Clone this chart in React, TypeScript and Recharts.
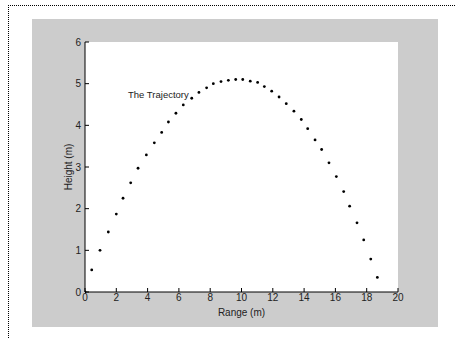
import React from 'react';
import { ScatterChart, Scatter, XAxis, YAxis, CartesianGrid, ReferenceDot } from 'recharts';

const rangeX = [0, 0.43, 0.96, 1.49, 2.0, 2.43, 2.92, 3.39, 3.92, 4.43, 4.9, 5.33, 5.81, 6.28, 6.82, 7.28, 7.77, 8.2, 8.69, 9.16, 9.63, 10.08, 10.56, 11.03, 11.46, 11.93, 12.4, 12.86, 13.35, 13.82, 14.23, 14.7, 15.12, 15.59, 16.06, 16.53, 16.91, 17.38, 17.81, 18.26, 18.68];
const heightY = [0, 0.53, 1.0, 1.44, 1.87, 2.25, 2.62, 2.97, 3.29, 3.58, 3.83, 4.08, 4.29, 4.49, 4.65, 4.79, 4.9, 5.0, 5.05, 5.08, 5.1, 5.1, 5.06, 5.03, 4.93, 4.82, 4.68, 4.52, 4.34, 4.14, 3.92, 3.65, 3.42, 3.1, 2.77, 2.41, 2.06, 1.66, 1.25, 0.79, 0.35];
const xTicks = [0, 2, 4, 6, 8, 10, 12, 14, 16, 18, 20];
const yTicks = [0, 1, 2, 3, 4, 5, 6];
const annotationText = 'The Trajectory';
const annotationAt = { x: 2.75, y: 4.72 };

const data = rangeX.map((x, i) => ({ x, y: heightY[i] }));

const FONT = '"Liberation Sans", Arial, sans-serif';
const TXT = '#222';

const Dot = (props: any) => <circle cx={props.cx} cy={props.cy} r={1.4} fill="#000" />;

const XLabel = (props: any) => {
  const vb = props.viewBox;
  return (
    <text x={vb.x + vb.width / 2} y={vb.y + 24} textAnchor="middle" fontSize={10} fontFamily={FONT} fill={TXT}>
      Range (m)
    </text>
  );
};

const YLabel = (props: any) => {
  const vb = props.viewBox;
  const cx = vb.x + 40;
  const cy = vb.y + vb.height / 2;
  return (
    <text x={cx} y={cy} transform={`rotate(-90 ${cx} ${cy})`} textAnchor="middle" fontSize={10} fontFamily={FONT} fill={TXT}>
      Height (m)
    </text>
  );
};

const AnnLabel = (props: any) => {
  const vb = props.viewBox;
  return (
    <text x={vb.x} y={vb.y + 3} textAnchor="start" fontSize={9.5} fontFamily={FONT} fill={TXT}>
      {annotationText}
    </text>
  );
};

const tickStyle = { fontSize: 10, fontFamily: FONT, fill: TXT };

export default function App() {
  return (
    <div style={{ position: 'fixed', left: 0, top: 0, width: 455, height: 338, background: '#fff', overflow: 'hidden' }}>
      <div style={{ position: 'absolute', left: 8, top: 5, width: 470, height: 360, borderTop: '1px dotted #000', borderLeft: '1px dotted #000' }} />
      <div style={{ position: 'absolute', left: 32, top: 19, width: 406, height: 308, background: '#cccccc' }}>
        <ScatterChart width={406} height={308} margin={{ top: 23, right: 40, bottom: 0, left: 0 }}>
          <CartesianGrid fill="#ffffff" stroke="none" horizontal={false} vertical={false} />
          <XAxis xAxisId="b" type="number" dataKey="x" domain={[0, 20]} ticks={xTicks} height={35}
            tick={tickStyle} tickSize={-4} tickMargin={6} stroke="#000" tickLine={{ stroke: '#000' }}
            axisLine={{ stroke: '#000' }} allowDataOverflow label={<XLabel />} />
          <XAxis xAxisId="t" orientation="top" type="number" dataKey="x" domain={[0, 20]} ticks={xTicks} height={0}
            tickSize={-4} tickFormatter={() => ''} axisLine={{ stroke: '#000' }} tickLine={{ stroke: '#000' }} />
          <YAxis yAxisId="l" type="number" dataKey="y" domain={[0, 6]} ticks={yTicks} width={53}
            tick={tickStyle} tickSize={-4} tickMargin={8} axisLine={{ stroke: '#000' }} tickLine={{ stroke: '#000' }}
            label={<YLabel />} />
          <YAxis yAxisId="r" orientation="right" type="number" dataKey="y" domain={[0, 6]} ticks={yTicks} width={0}
            tickSize={-4} tickFormatter={() => ''} axisLine={{ stroke: '#000' }} tickLine={{ stroke: '#000' }} />
          <Scatter xAxisId="b" yAxisId="l" data={data} shape={<Dot />} isAnimationActive={false} />
          <ReferenceDot xAxisId="b" yAxisId="l" x={annotationAt.x} y={annotationAt.y} r={0} fill="none" stroke="none" label={<AnnLabel />} />
        </ScatterChart>
      </div>
    </div>
  );
}
